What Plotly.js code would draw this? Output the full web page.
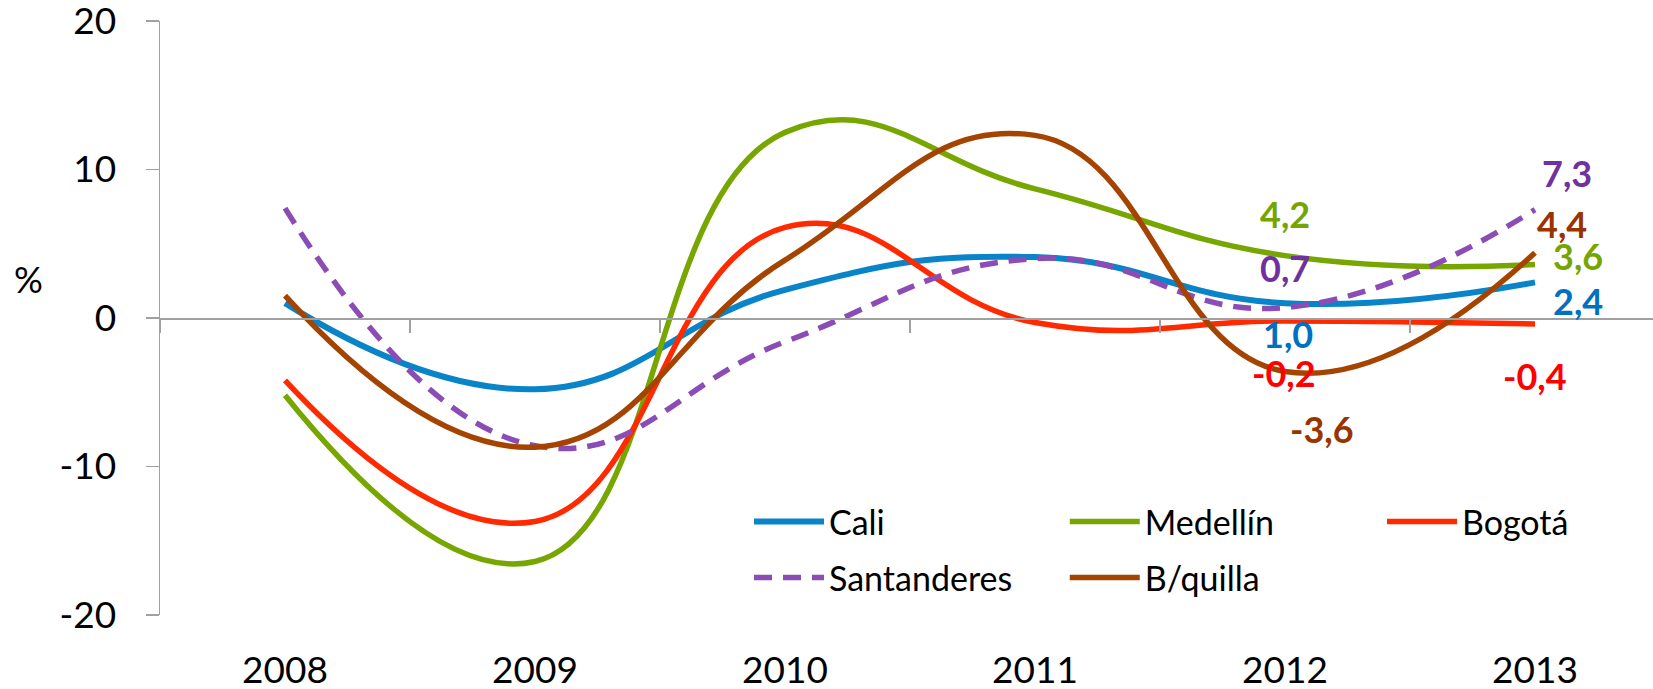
<!DOCTYPE html>
<html>
<head>
<meta charset="utf-8">
<script src="https://cdn.plot.ly/plotly-3.0.1.min.js"></script>
<style>
  html, body { margin: 0; padding: 0; background: #ffffff; }
  #chart { width: 1653px; height: 689px; }
</style>
</head>
<body>
<div id="chart"></div>
<script>
// ---- data ----
const years = ['2008', '2009', '2010', '2011', '2012', '2013'];
const cali = [1.0, -4.8, 1.9, 4.1, 1.0, 2.4];
const medellin = [-5.2, -16.4, 12.5, 8.7, 4.2, 3.6];
const bogota = [-4.2, -13.7, 6.1, -0.3, -0.2, -0.4];
const santanderes = [7.4, -8.6, -1.6, 4.0, 0.7, 7.3];
const bquilla = [1.5, -8.7, 3.9, 12.3, -3.6, 4.4];
const seriesNames = ['Cali', 'Medellín', 'Bogotá', 'Santanderes', 'B/quilla'];
const yTicks = [-20, -10, 0, 10, 20];
const yTickText = ['-20', '-10', '0', '10', '20'];

// ---- styles ----
const FONT = 'Lato, Carlito, Calibri, sans-serif';
const lineColors = ['#0A84C8', '#77A600', '#FF2A00', '#8B4DB5', '#A54400'];
const labelColors = ['#0070C0', '#77A500', '#FF0000', '#7030A0', '#993300'];
const lineWidths = [6, 5.5, 5.5, 5.5, 5.5];
const lineDash = ['solid', 'solid', 'solid', '18px,11px', 'solid'];
const legendIds = ['legend', 'legend2', 'legend3', 'legend4', 'legend5'];
// legend slot positions (paper fractions): [x, y]
const legendPos = [[0.3945, 0.1566], [0.606, 0.1566], [0.8185, 0.1566], [0.3945, 0.0623], [0.606, 0.0623]];
// label offsets (px) for the values shown at 2012 and 2013: [dx, dy(up)]
const labelOffsets2012 = [[3, -31], [0, 42], [-1, -52], [0, 40], [37, -58]];
const labelOffsets2013 = [[43, -19], [43, 9], [0, -52], [32, 37], [27, 29]];

const allSeries = [cali, medellin, bogota, santanderes, bquilla];

const traces = allSeries.map((vals, i) => ({
  type: 'scatter',
  mode: 'lines',
  name: seriesNames[i],
  x: years,
  y: vals,
  line: { color: lineColors[i], width: lineWidths[i], dash: lineDash[i], shape: 'spline', smoothing: 1.3 },
  legend: legendIds[i],
  hoverinfo: 'skip'
}));

// helper trace so the zero-line axis (ticks between categories) is drawn
traces.push({
  type: 'scatter', mode: 'lines', x: years, y: years.map(() => null),
  xaxis: 'x2', yaxis: 'y', showlegend: false, hoverinfo: 'skip'
});

const fmt = v => v.toFixed(1).replace('.', ',');
const annotations = [];
allSeries.forEach((vals, i) => {
  [[4, labelOffsets2012[i]], [5, labelOffsets2013[i]]].forEach(([idx, off]) => {
    annotations.push({
      x: idx, y: vals[idx], xref: 'x', yref: 'y',
      text: fmt(vals[idx]),
      showarrow: false, xanchor: 'center', yanchor: 'middle',
      xshift: off[0], yshift: off[1],
      font: { family: FONT, size: 36, color: labelColors[i], weight: 'bold' }
    });
  });
});
annotations.push({
  x: -0.088, y: 0.566, xref: 'paper', yref: 'paper', text: '%', showarrow: false,
  xanchor: 'center', yanchor: 'middle', font: { family: FONT, size: 36, color: '#000' }
});

const AXIS_GRAY = '#A0A0A0';
const xRange = [-0.5, 5.472];

const layout = {
  width: 1653, height: 689,
  margin: { l: 160, r: 0, t: 21, b: 74 },
  paper_bgcolor: '#ffffff', plot_bgcolor: '#ffffff',
  font: { family: FONT, color: '#000' },
  showlegend: true,
  xaxis: {
    type: 'category', range: xRange, showgrid: false, zeroline: false, showline: false,
    ticks: '', tickfont: { family: FONT, size: 37, color: '#000' }, ticklabelstandoff: 30,
    ticklabeloverflow: 'allow'
  },
  xaxis2: {
    type: 'category', range: xRange, overlaying: 'x', anchor: 'free', position: 0.5,
    showgrid: false, zeroline: false, showline: true, linecolor: AXIS_GRAY, linewidth: 1.5,
    ticks: 'outside', tickson: 'boundaries', ticklen: 13, tickcolor: AXIS_GRAY, tickwidth: 1.5,
    showticklabels: false
  },
  yaxis: {
    range: [-20, 20], tickmode: 'array', tickvals: yTicks, ticktext: yTickText,
    showgrid: false, zeroline: false,
    showline: true, linecolor: AXIS_GRAY, linewidth: 1.5,
    ticks: 'outside', ticklen: 13, tickcolor: AXIS_GRAY, tickwidth: 1.5,
    tickfont: { family: FONT, size: 37, color: '#000' }, ticklabelstandoff: 22,
    ticklabeloverflow: 'allow'
  },
  annotations: annotations
};

legendIds.forEach((id, i) => {
  layout[id] = {
    orientation: 'h', x: legendPos[i][0], y: legendPos[i][1], xanchor: 'left', yanchor: 'middle',
    itemwidth: 70, font: { family: FONT, size: 34, color: '#000' }, bgcolor: 'rgba(0,0,0,0)'
  };
});

Plotly.newPlot('chart', traces, layout, { displayModeBar: false, staticPlot: true });
</script>
</body>
</html>
